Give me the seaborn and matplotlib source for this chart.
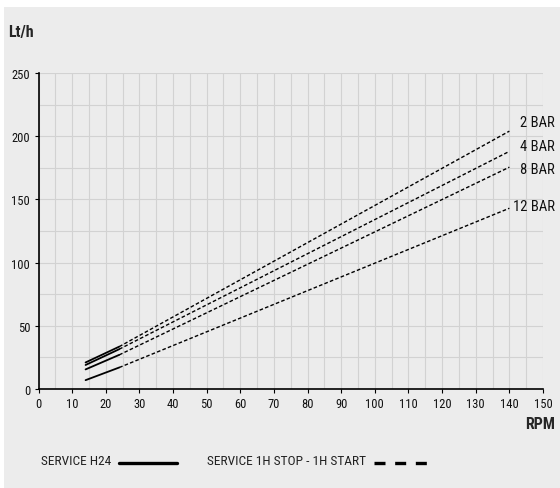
import numpy as np
import pandas as pd
import seaborn as sns
import matplotlib.pyplot as plt
from matplotlib.lines import Line2D
from matplotlib.patches import Rectangle

# Flow (Lt/h) vs RPM
rpm = [14, 24, 140]
series_names = ["2 BAR", "4 BAR", "8 BAR", "12 BAR"]
bar2 = [21, 33.5, 204]
bar4 = [19, 31.5, 188]
bar8 = [15.5, 27, 175.5]
bar12 = [7, 17, 143]
label_y = [211, 192, 174, 145]

x_ticks = list(range(0, 151, 10))
y_ticks = [0, 50, 100, 150, 200, 250]

BG = "#ececec"
GRID = "#d2d2d2"

sns.set_style("white", {"axes.facecolor": BG})
plt.rcParams['font.family'] = ['Roboto Condensed', 'Liberation Sans', 'DejaVu Sans']

fig = plt.figure(figsize=(5.6, 4.89), dpi=100, facecolor="white")
# grey panel behind the whole chart
fig.add_artist(Rectangle((4 / 560, 0), 1, 1 - 8 / 489, transform=fig.transFigure,
                         facecolor=BG, edgecolor="none", zorder=0))
ax = fig.add_axes([38.5 / 560, 99 / 489, 504.5 / 560, 316 / 489])

for name, vals in zip(series_names, [bar2, bar4, bar8, bar12]):
    df = pd.DataFrame({"rpm": rpm, "flow": vals})
    # continuous service part (solid) and intermittent part (dashed)
    sns.lineplot(data=df.iloc[:2], x="rpm", y="flow", ax=ax, color="black", lw=1.3)
    sns.lineplot(data=df.iloc[1:], x="rpm", y="flow", ax=ax, color="black", lw=1.0,
                 dashes=False, linestyle=(0, (2.6, 1.6)))

for name, ly in zip(series_names, label_y):
    ax.text(153.5, ly, name, ha="right", va="center", fontsize=10.5, clip_on=False,
            color="#111111")

ax.set_xlim(0, 150)
ax.set_ylim(0, 250)
ax.set_xticks(x_ticks)
ax.set_yticks(y_ticks)
ax.set_xticks(np.arange(0, 151, 5), minor=True)
ax.set_yticks(np.arange(0, 251, 25), minor=True)
ax.grid(True, which="both", color=GRID, lw=0.8)
ax.set_axisbelow(True)
ax.tick_params(axis="both", which="major", labelsize=9, length=3, width=0.8,
               direction="out", color="black", bottom=True, left=True, pad=3,
               labelcolor="#111111")
ax.tick_params(which="minor", length=0)
for s in ["top", "right"]:
    ax.spines[s].set_visible(False)
for s in ["left", "bottom"]:
    ax.spines[s].set_color("black")
    ax.spines[s].set_linewidth(1.2)
ax.set_xlabel("")
ax.set_ylabel("")

fig.text(8 / 560, 1 - 33 / 489, "Lt/h", fontsize=11.5, fontweight="bold", va="center", ha="left")
fig.text(555 / 560, 1 - 425 / 489, "RPM", fontsize=11.5, fontweight="bold", va="center", ha="right")

# legend drawn by hand: text first, then the line sample
ly = 1 - 462 / 489
fig.text(41 / 560, ly, "SERVICE H24", fontsize=9.6, va="center", ha="left", color="#222222")
fig.add_artist(Line2D([119 / 560, 177 / 560], [ly - 1.5 / 489] * 2, color="black", lw=2.4,
                      transform=fig.transFigure))
fig.text(207 / 560, ly, "SERVICE 1H STOP - 1H START", fontsize=9.6, va="center", ha="left",
         color="#222222")
fig.add_artist(Line2D([374 / 560, 427 / 560], [ly - 1.5 / 489] * 2, color="black", lw=2.4,
                      linestyle=(0, (3.3, 2.9)), transform=fig.transFigure))

fig.savefig("out.png", dpi=100, facecolor="white")
